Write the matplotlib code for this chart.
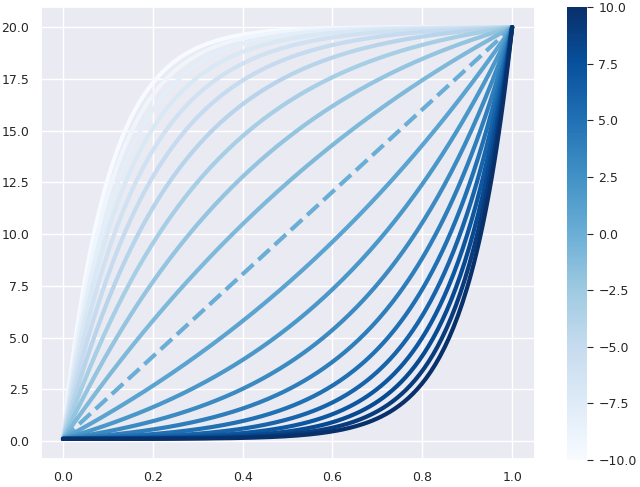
import numpy as np
import matplotlib
matplotlib.use("Agg")
import matplotlib.pyplot as plt
import seaborn as sns

sns.set_theme(style="darkgrid")
plt.rcParams['font.family'] = ['DejaVu Sans']

# curve family parameters (colorbar values)
shape_params = [-10, -9, -8, -7, -6, -5, -4, -3, -2, -1, 0, 1, 2, 3, 4, 5, 6, 7, 8, 9, 10]
y_start = 0.1
y_end = 20.0
x_pts = np.linspace(0, 1, 200)

fig = plt.figure(figsize=(6.4, 4.87), dpi=100)
ax = fig.add_axes([0.0633, 0.0565, 0.772, 0.930])
cax = fig.add_axes([0.8855, 0.0554, 0.032, 0.930])
cmap = plt.get_cmap("Blues")
norm = matplotlib.colors.Normalize(vmin=-10, vmax=10)

for a in shape_params:
    if a == 0:
        y = y_start + (y_end - y_start) * x_pts
        ax.plot(x_pts, y, color=cmap(norm(a)), lw=3, ls="--")
    else:
        y = y_start + (y_end - y_start) * (np.exp(a * x_pts) - 1) / (np.exp(a) - 1)
        ax.plot(x_pts, y, color=cmap(norm(a)), lw=3)
ax.tick_params(axis="both", length=0, pad=8, labelsize=9)

sm = matplotlib.cm.ScalarMappable(norm=norm, cmap=cmap)
cb = fig.colorbar(sm, cax=cax)
cb.outline.set_visible(False)
cb.ax.tick_params(length=4.5, width=0.8, color="#262626", right=True, pad=3.5, labelsize=9)

fig.savefig("out.png", dpi=100)
